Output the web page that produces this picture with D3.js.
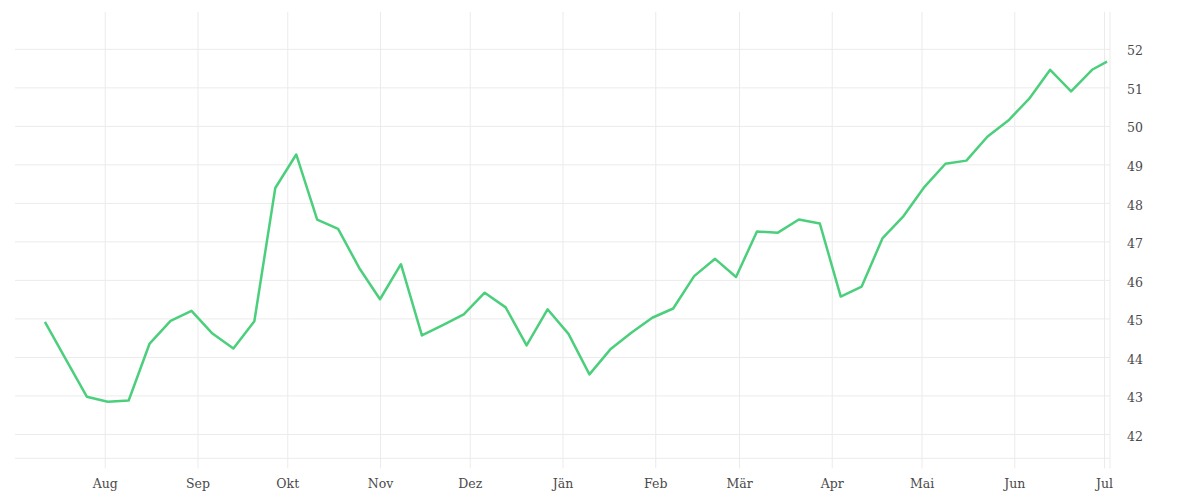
<!DOCTYPE html>
<html>
<head>
<meta charset="utf-8">
<script src="https://cdn.jsdelivr.net/npm/d3@7"></script>
<style>
  body { margin: 0; background: #fff; }
  text { font-family: "DejaVu Serif", serif; }
</style>
</head>
<body>
<svg id="chart" width="1200" height="500"></svg>
<script>
// weekly readings
var dates = [
  '2024-07-12', '2024-07-19', '2024-07-26', '2024-08-02', '2024-08-09', '2024-08-16',
  '2024-08-23', '2024-08-30', '2024-09-06', '2024-09-13', '2024-09-20', '2024-09-27',
  '2024-10-04', '2024-10-11', '2024-10-18', '2024-10-25', '2024-11-01', '2024-11-08',
  '2024-11-15', '2024-11-22', '2024-11-29', '2024-12-06', '2024-12-13', '2024-12-20',
  '2024-12-27', '2025-01-03', '2025-01-10', '2025-01-17', '2025-01-24', '2025-01-31',
  '2025-02-07', '2025-02-14', '2025-02-21', '2025-02-28', '2025-03-07', '2025-03-14',
  '2025-03-21', '2025-03-28', '2025-04-04', '2025-04-11', '2025-04-18', '2025-04-25',
  '2025-05-02', '2025-05-09', '2025-05-16', '2025-05-23', '2025-05-30', '2025-06-06',
  '2025-06-13', '2025-06-20', '2025-06-27', '2025-07-02'
];
var values = [
  44.92, 43.95, 42.98, 42.85, 42.88, 44.36, 44.95, 45.21, 44.62, 44.23,
  44.94, 48.40, 49.27, 47.58, 47.34, 46.33, 45.51, 46.42, 44.57, 44.84,
  45.12, 45.68, 45.30, 44.31, 45.25, 44.61, 43.56, 44.21, 44.64, 45.03,
  45.27, 46.11, 46.56, 46.09, 47.27, 47.24, 47.58, 47.48, 45.58, 45.84,
  47.10, 47.67, 48.43, 49.03, 49.11, 49.73, 50.15, 50.72, 51.47, 50.91,
  51.47, 51.68
];
var monthTicks = [
  '2024-08-01', '2024-09-01', '2024-10-01', '2024-11-01', '2024-12-01', '2025-01-01',
  '2025-02-01', '2025-03-01', '2025-04-01', '2025-05-01', '2025-06-01', '2025-07-01'
];
var monthLabels = ['Aug', 'Sep', 'Okt', 'Nov', 'Dez', 'Jän', 'Feb', 'Mär', 'Apr', 'Mai', 'Jun', 'Jul'];
var valueTicks = [42, 43, 44, 45, 46, 47, 48, 49, 50, 51, 52];

var parse = d3.utcParse('%Y-%m-%d');
var data = dates.map(function(d, i) { return { date: parse(d), value: values[i] }; });
var tickDates = monthTicks.map(parse);

var plotLeft = 15, plotRight = 1110, plotTop = 12, plotBottom = 458.3;
var gridColor = '#ebebeb';

var x = d3.scaleUtc()
    .domain([parse('2024-07-02'), parse('2025-07-03')])
    .range([plotLeft, plotRight]);
var y = d3.scaleLinear()
    .domain([41.38, 52.97])
    .range([plotBottom, plotTop]);

var svg = d3.select('#chart');

// horizontal grid
svg.append('g').selectAll('line')
    .data(valueTicks).enter().append('line')
    .attr('x1', plotLeft).attr('x2', plotRight)
    .attr('y1', function(d) { return y(d); })
    .attr('y2', function(d) { return y(d); })
    .attr('stroke', gridColor).attr('stroke-width', 1);

// x axis, ticks stretched up to form the vertical grid
var xAxis = d3.axisBottom(x)
    .tickValues(tickDates)
    .tickFormat(function(d, i) { return monthLabels[i]; })
    .tickSize(10)
    .tickPadding(11);
var gx = svg.append('g')
    .attr('transform', 'translate(0,' + plotBottom + ')')
    .call(xAxis);
gx.select('.domain').attr('stroke', gridColor).attr('d', 'M' + plotLeft + ',0H' + plotRight);
gx.selectAll('.tick line')
    .attr('stroke', gridColor)
    .attr('y1', plotTop - plotBottom);
gx.selectAll('.tick text')
    .attr('fill', '#4a4a4a')
    .style('font-size', '12.5px');

// y axis on the right
var yAxis = d3.axisRight(y)
    .tickValues(valueTicks)
    .tickSize(0)
    .tickPadding(17);
var gy = svg.append('g')
    .attr('transform', 'translate(' + plotRight + ',0)')
    .call(yAxis);
gy.select('.domain').attr('stroke', gridColor)
    .attr('d', 'M0,' + plotTop + 'V' + (plotBottom + 10));
gy.selectAll('.tick text')
    .attr('fill', '#4a4a4a')
    .attr('dy', '0.45em')
    .style('font-size', '12.5px');

// the series
var line = d3.line()
    .x(function(d) { return x(d.date); })
    .y(function(d) { return y(d.value); });
svg.append('path')
    .datum(data)
    .attr('d', line)
    .attr('fill', 'none')
    .attr('stroke', '#4ccf7c')
    .attr('stroke-width', 2.5)
    .attr('stroke-linejoin', 'round');
</script>
</body>
</html>
